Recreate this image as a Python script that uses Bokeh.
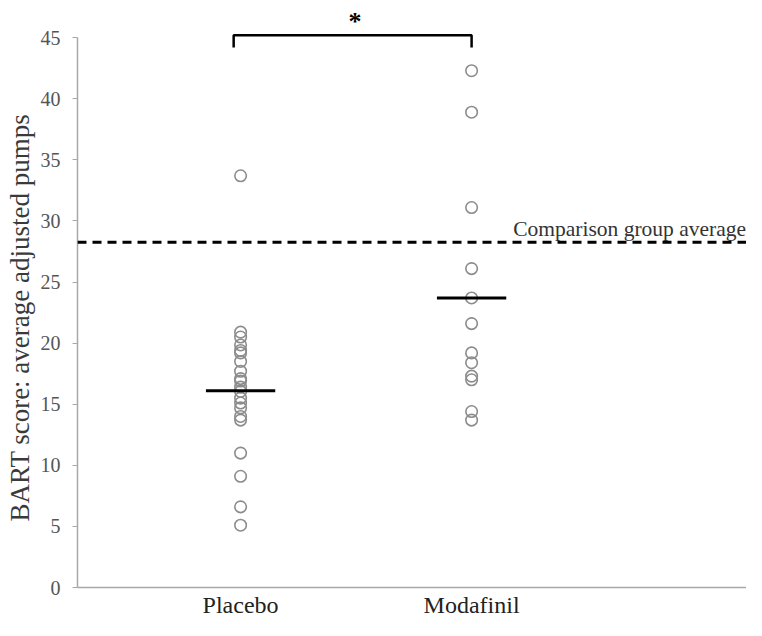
from bokeh.plotting import figure
from bokeh.models import ColumnDataSource, FixedTicker, Span, Range1d, Title
from bokeh.embed import file_html
from bokeh.resources import INLINE
from bokeh.core.properties import value

# ---- data ----
categories = ["Placebo", "Modafinil"]
placebo = [33.7, 20.9, 20.5, 19.85, 19.4, 19.2, 18.5, 17.7, 17.1, 16.9, 16.4,
           16.05, 15.5, 15.1, 14.7, 14.0, 13.7, 11.0, 9.1, 6.6, 5.1]
modafinil = [42.3, 38.9, 31.1, 26.1, 23.7, 21.6, 19.2, 18.4, 17.3, 17.0, 14.4, 13.7]
group_means = [16.1, 23.7]
comparison_avg = 28.25
comparison_label = "Comparison group average"
y_ticks = [0, 5, 10, 15, 20, 25, 30, 35, 40, 45]
y_title = "BART score: average adjusted pumps"
sig_label = "*"

FONT = "Liberation Serif"

p = figure(width=746, height=620, output_backend="svg", toolbar_location=None,
           x_range=Range1d(0.294, 3.19), y_range=Range1d(0, 47.39),
           min_border_left=77, min_border_right=0, min_border_top=8,
           min_border_bottom=32)
p.grid.visible = False
p.outline_line_color = None
p.background_fill_color = "white"

# points
xs = [1] * len(placebo) + [2] * len(modafinil)
ys = placebo + modafinil
src = ColumnDataSource(dict(x=xs, y=ys))
p.scatter("x", "y", source=src, size=11.5, fill_color=None,
          line_color="#8c8c8c", line_width=1.6)

# mean lines
half = 0.15
pos = [i + 1 for i in range(len(categories))]
p.segment(x0=[c - half for c in pos], x1=[c + half for c in pos],
          y0=group_means, y1=group_means, line_color="black", line_width=3)

# comparison dashed line
p.add_layout(Span(location=comparison_avg, dimension="width", line_color="black",
                  line_width=3, line_dash="9 6"))
p.text(x=[2.18], y=[comparison_avg + 1.1], text=[comparison_label],
       text_font=value(FONT), text_font_size="21.5px", text_color="#333333",
       text_baseline="middle", text_align="left")

# significance bracket
bx0, bx1 = 0.97, 2.0
btop, bbot = 45.2, 44.2
p.line(x=[bx0, bx0, bx1, bx1], y=[bbot, btop, btop, bbot], line_color="black",
       line_width=2.5)
p.text(x=[(bx0 + bx1) / 2 + 0.01], y=[46.3], text=[sig_label],
       text_font=value(FONT), text_font_size="26px", text_font_style="bold",
       text_color="black", text_baseline="middle", text_align="center")

# axes
xa = p.xaxis[0]
xa.ticker = FixedTicker(ticks=pos)
xa.major_label_overrides = {c: lab for c, lab in zip(pos, categories)}
xa.major_tick_out = 0
xa.major_tick_in = 0
xa.minor_tick_out = 0
xa.minor_tick_in = 0
xa.axis_line_color = "#a8a8a8"
xa.axis_line_width = 1.5
xa.major_label_text_font = FONT
xa.major_label_text_font_size = "24px"
xa.major_label_text_color = "#222222"
xa.major_label_standoff = 4

ya = p.yaxis[0]
ya.ticker = FixedTicker(ticks=y_ticks)
ya.bounds = (0, 45)
ya.major_tick_out = 5
ya.major_tick_in = 0
ya.minor_tick_out = 0
ya.minor_tick_in = 0
ya.major_tick_line_color = "#a8a8a8"
ya.axis_line_color = "#a8a8a8"
ya.axis_line_width = 1.5
ya.major_label_text_font = FONT
ya.major_label_text_font_size = "20px"
ya.major_label_text_color = "#555555"
ya.major_label_standoff = 12

# y-axis title, placed as a left-side title starting near the bottom of the axis
p.add_layout(Title(text=y_title, align="left", offset=66, standoff=5,
                   text_font=FONT, text_font_size="27px",
                   text_font_style="normal", text_color="#3a3a3a"), "left")

open("out.html", "w").write(file_html(p, INLINE))
